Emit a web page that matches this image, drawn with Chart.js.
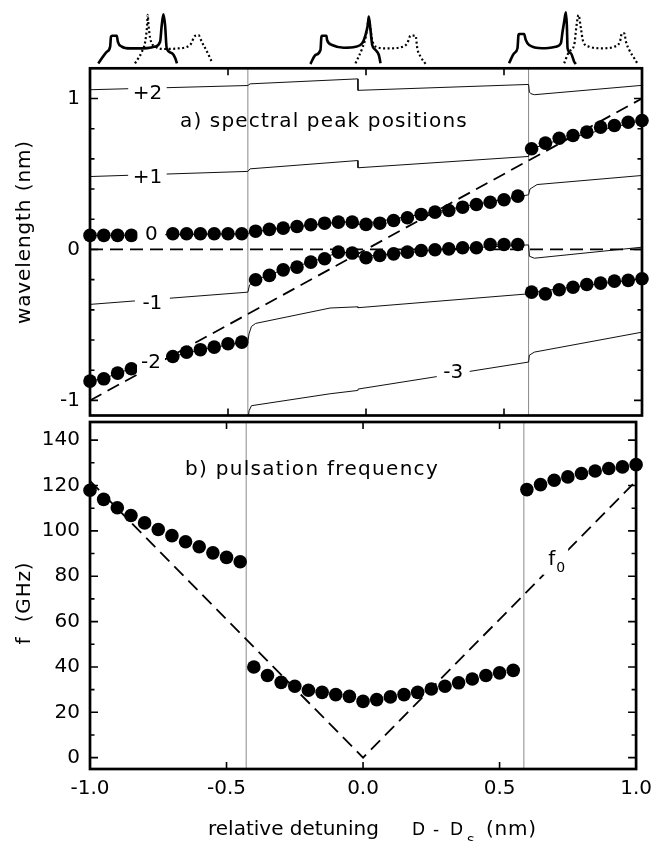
<!DOCTYPE html>
<html>
<head>
<meta charset="utf-8">
<script src="https://cdn.jsdelivr.net/npm/chart.js@4.4.1/dist/chart.umd.min.js"></script>
<style>
  body { margin: 0; background: #fff; }
  #wrap { position: relative; width: 660px; height: 841px; background: #fff; }
  #wrap canvas { position: absolute; left: 0; top: 0; }
</style>
</head>
<body>
<div id="wrap">
  <canvas id="spectra" width="660" height="841"></canvas>
  <canvas id="peaks" width="660" height="841"></canvas>
  <canvas id="pulsation" width="660" height="841"></canvas>
</div>
<script>
// detuning of the measured points (nm)
const detLeft = [-1.0, -0.95, -0.9, -0.85, -0.8, -0.75, -0.7, -0.65, -0.6, -0.55, -0.5, -0.45];
const detMid = [-0.4, -0.35, -0.3, -0.25, -0.2, -0.15, -0.1, -0.05, 0, 0.05, 0.1, 0.15, 0.2, 0.25, 0.3, 0.35, 0.4, 0.45, 0.5, 0.55];
const detRight = [0.6, 0.65, 0.7, 0.75, 0.8, 0.85, 0.9, 0.95, 1.0];

// where the laser jumps between regimes
const jumps = [-0.428, 0.589];

// a) spectral peak positions (nm)
const peakUpperLeft = [0.093, 0.093, 0.093, 0.093, null, null, 0.104, 0.104, 0.104, 0.104, 0.104, 0.104];
const peakLowerLeft = [-0.872, -0.857, -0.819, -0.79, null, null, -0.709, -0.68, -0.664, -0.647, -0.625, -0.614];
const peakUpperMid = [0.121, 0.133, 0.141, 0.152, 0.164, 0.174, 0.181, 0.181, 0.166, 0.174, 0.192, 0.21, 0.232, 0.247, 0.258, 0.28, 0.298, 0.313, 0.329, 0.353];
const peakLowerMid = [-0.201, -0.172, -0.135, -0.117, -0.084, -0.062, -0.018, -0.024, -0.055, -0.04, -0.029, -0.018, -0.007, -0.002, 0.004, 0.011, 0.011, 0.033, 0.033, 0.033];
const peakUpperRight = [0.667, 0.704, 0.737, 0.755, 0.777, 0.81, 0.821, 0.843, 0.854];
const peakLowerRight = [-0.283, -0.294, -0.267, -0.25, -0.232, -0.223, -0.21, -0.205, -0.194];

// calculated mode positions [detuning, wavelength]
const modePlus2 = [[-1, 1.058], [-0.428, 1.086], [-0.42, 1.097], [-0.03, 1.13], [-0.029, 1.054], [0.589, 1.093], [0.592, 1.043], [0.597, 1.032], [0.61, 1.025], [1, 1.087]];
const modePlus1 = [[-1, 0.483], [-0.428, 0.517], [-0.42, 0.534], [-0.03, 0.589], [-0.029, 0.541], [0.589, 0.616], [0.595, 0.66], [0.65, 0.7], [1, 0.855]];
const modeZero = [[-1, 0.092], [-0.428, 0.104], [-0.42, 0.115], [-0.3, 0.141], [-0.1, 0.181], [-0.03, 0.183], [-0.029, 0.165], [0.2, 0.232], [0.589, 0.362], [0.594, 0.4], [0.62, 0.43], [1, 0.49]];
const modeMinus1 = [[-1, -0.364], [-0.428, -0.283], [-0.422, -0.235], [-0.4, -0.201], [-0.3, -0.135], [-0.2, -0.084], [-0.1, -0.02], [-0.03, -0.02], [-0.029, -0.05], [0.1, -0.029], [0.3, 0.004], [0.589, 0.03], [0.592, -0.045], [0.61, -0.058], [1, 0.015]];
const modeMinus2 = [[-1, -0.87], [-0.95, -0.857], [-0.9, -0.819], [-0.85, -0.79], [-0.7, -0.709], [-0.6, -0.664], [-0.428, -0.61], [-0.424, -0.56], [-0.415, -0.51], [-0.4, -0.49], [-0.13, -0.388], [-0.03, -0.38], [-0.029, -0.386], [0.589, -0.294], [0.6, -0.283], [1, -0.194]];
const modeMinus3 = [[-0.428, -1.16], [-0.424, -1.07], [-0.415, -1.035], [-0.13, -0.956], [-0.03, -0.934], [-0.029, -0.925], [0.589, -0.746], [0.592, -0.7], [0.61, -0.68], [1, -0.548]];
const zeroLine = [[-1, 0], [1, 0]];
const diagLine = [[-1, -1], [1, 1]];

// b) pulsation frequency (GHz)
const freqLeft = [117.9, 113.9, 110.2, 106.8, 103.5, 100.6, 97.9, 95.2, 93.0, 90.3, 88.3, 86.4];
const freqMid = [40.0, 36.2, 33.2, 31.5, 29.7, 28.8, 27.8, 27.0, 24.8, 25.6, 26.8, 27.8, 28.8, 30.3, 31.5, 33.0, 34.7, 36.2, 37.4, 38.5];
const freqRight = [118.2, 120.4, 122.3, 123.8, 125.3, 126.4, 127.5, 128.2, 129.2];
const f0Line = [[-1, 122], [0, 0], [1, 122]];

// optical spectra at three detunings [position, intensity]
const specLeftSolid = [[-0.97, 0.01], [-0.939, 0.205], [-0.927, 0.29], [-0.924, 0.455], [-0.92, 0.47], [-0.903, 0.47], [-0.899, 0.37], [-0.885, 0.29], [-0.855, 0.26], [-0.825, 0.26], [-0.793, 0.265], [-0.764, 0.29], [-0.746, 0.37], [-0.74, 0.65], [-0.734, 0.83], [-0.728, 0.65], [-0.722, 0.26], [-0.703, 0.18], [-0.691, 0.095], [-0.685, 0.01]];
const specLeftDot = [[-0.837, 0.01], [-0.812, 0.205], [-0.8, 0.37], [-0.793, 0.65], [-0.791, 0.82], [-0.788, 0.65], [-0.782, 0.43], [-0.764, 0.29], [-0.728, 0.25], [-0.68, 0.26], [-0.637, 0.32], [-0.619, 0.47], [-0.607, 0.48], [-0.595, 0.37], [-0.576, 0.205], [-0.558, 0.03]];
const specMidSolid = [[-0.2015, 0], [-0.183, 0.15], [-0.165, 0.233], [-0.1615, 0.455], [-0.159, 0.472], [-0.1434, 0.472], [-0.141, 0.4], [-0.123, 0.317], [-0.0806, 0.272], [-0.038, 0.288], [-0.0138, 0.345], [-0.0018, 0.483], [0.0065, 0.65], [0.01, 0.79], [0.0163, 0.567], [0.0225, 0.317], [0.0345, 0.233], [0.0465, 0.15], [0.0526, 0.012]];
const specMidDot = [[-0.038, 0.01], [-0.0138, 0.26], [-0.0018, 0.43], [0.01, 0.73], [0.0225, 0.4], [0.0345, 0.29], [0.0769, 0.26], [0.1252, 0.278], [0.1495, 0.345], [0.1615, 0.472], [0.1797, 0.472], [0.1858, 0.26], [0.1978, 0.122], [0.216, 0]];
const specRightSolid = [[0.5183, 0.012], [0.5365, 0.178], [0.5488, 0.262], [0.5525, 0.483], [0.5546, 0.5], [0.5728, 0.5], [0.5789, 0.4], [0.5909, 0.317], [0.6395, 0.262], [0.6878, 0.288], [0.706, 0.345], [0.7121, 0.538], [0.718, 0.705], [0.7241, 0.862], [0.7277, 0.65], [0.7303, 0.262], [0.7423, 0.178], [0.7543, 0.038], [0.7604, 0]];
const specRightDot = [[0.718, 0.012], [0.736, 0.205], [0.7543, 0.317], [0.763, 0.65], [0.77, 0.817], [0.7786, 0.595], [0.787, 0.372], [0.8087, 0.288], [0.8573, 0.262], [0.8994, 0.288], [0.92, 0.372], [0.9274, 0.512], [0.9357, 0.512], [0.9419, 0.372], [0.9539, 0.233], [0.972, 0.095], [0.9844, 0]];

// axis ticks
const xTicks = [-1, -0.5, 0, 0.5, 1];
const yTicksTop = [-1, -0.8, -0.6, -0.4, -0.2, 0, 0.2, 0.4, 0.6, 0.8, 1];
const yLabelsTop = [-1, 0, 1];
const yTicksBottom = [0, 10, 20, 30, 40, 50, 60, 70, 80, 90, 100, 110, 120, 130, 140];
const yLabelsBottom = [0, 20, 40, 60, 80, 100, 120, 140];

// mode labels on the thin lines
const modeLabels = [
  { text: '+2', x: -0.792, y: 1.037, pad: 4.5 },
  { text: '+1', x: -0.792, y: 0.479, pad: 4.5 },
  { text: '0', x: -0.778, y: 0.106, pad: 7.5 },
  { text: '-1', x: -0.774, y: -0.355, pad: 7.5 },
  { text: '-2', x: -0.779, y: -0.746, pad: 4 },
  { text: '-3', x: 0.316, y: -0.813, pad: 6.5 }
];

const FONT = '"DejaVu Sans", sans-serif';
Chart.defaults.font.family = FONT;
Chart.defaults.color = '#000';

const xy = (xs, ys) => xs.map((x, i) => ({ x, y: ys[i] }));
const pairs = a => a.map(([x, y]) => ({ x, y }));

function lineSet(data, extra) {
  return Object.assign({ data: pairs(data), showLine: true, pointRadius: 0, borderColor: '#111', borderWidth: 1, fill: false, clip: 0 }, extra);
}
function dotSet(data) {
  return { data, showLine: false, pointRadius: 6.8, pointBackgroundColor: '#000', pointBorderWidth: 0, clip: false };
}
function jumpSets(ymin, ymax) {
  return jumps.map(j => lineSet([[j, ymin], [j, ymax]], { borderColor: '#8a8a8a', borderWidth: 1 }));
}
const dashed = { borderColor: '#000', borderWidth: 1.8, borderDash: [13, 7] };

function drawFrame(chart, yTicks, yMajors) {
  const { ctx, chartArea: a, scales: { x, y } } = chart;
  ctx.save();
  ctx.strokeStyle = '#000';
  ctx.lineWidth = 1.6;
  ctx.beginPath();
  xTicks.forEach(v => {
    const px = x.getPixelForValue(v);
    ctx.moveTo(px, a.top); ctx.lineTo(px, a.top + 7);
    ctx.moveTo(px, a.bottom); ctx.lineTo(px, a.bottom - 7);
  });
  yTicks.forEach(v => {
    const py = y.getPixelForValue(v);
    const len = yMajors.includes(v) ? 8 : 4.5;
    ctx.moveTo(a.left, py); ctx.lineTo(a.left + len, py);
    ctx.moveTo(a.right, py); ctx.lineTo(a.right - len, py);
  });
  ctx.stroke();
  ctx.lineWidth = 2.7;
  ctx.strokeRect(a.left, a.top, a.right - a.left, a.bottom - a.top);
  ctx.restore();
}

function put(ctx, str, x, y, size, spacing, align) {
  ctx.font = size + 'px ' + FONT;
  ctx.letterSpacing = spacing || '0px';
  ctx.textAlign = align || 'left';
  ctx.textBaseline = 'alphabetic';
  ctx.fillStyle = '#000';
  ctx.fillText(str, x, y);
}

function sideTitle(ctx, str, x, y, spacing) {
  ctx.save();
  ctx.translate(x, y);
  ctx.rotate(-Math.PI / 2);
  put(ctx, str, 0, 0, 20, spacing, 'center');
  ctx.restore();
}

function yAxis(min, max, ticks, labels) {
  return {
    type: 'linear', min, max,
    afterFit: s => { s.width = 90; },
    afterBuildTicks: s => { s.ticks = ticks.map(v => ({ value: v })); },
    grid: { display: false, drawTicks: false },
    border: { display: false },
    ticks: { font: { size: 20 }, padding: 10, autoSkip: false, callback: v => labels.includes(v) ? String(v) : '' }
  };
}

const common = {
  responsive: false,
  animation: false,
  events: [],
  plugins: { legend: { display: false }, tooltip: { enabled: false } }
};

// spectra above the figure
new Chart(document.getElementById('spectra'), {
  type: 'scatter',
  data: {
    datasets: [
      lineSet(specLeftSolid, { borderColor: '#000', borderWidth: 2.6, cubicInterpolationMode: 'monotone' }),
      lineSet(specLeftDot, { borderColor: '#000', borderWidth: 2.2, borderDash: [2, 2.5], cubicInterpolationMode: 'monotone' }),
      lineSet(specMidSolid, { borderColor: '#000', borderWidth: 2.6, cubicInterpolationMode: 'monotone' }),
      lineSet(specMidDot, { borderColor: '#000', borderWidth: 2.2, borderDash: [2, 2.5], cubicInterpolationMode: 'monotone' }),
      lineSet(specRightSolid, { borderColor: '#000', borderWidth: 2.6, cubicInterpolationMode: 'monotone' }),
      lineSet(specRightDot, { borderColor: '#000', borderWidth: 2.2, borderDash: [2, 2.5], cubicInterpolationMode: 'monotone' })
    ].map(d => Object.assign(d, { clip: false }))
  },
  options: Object.assign({}, common, {
    layout: { padding: { left: 90, right: 18, top: 4, bottom: 841 - 64 } },
    scales: {
      x: { type: 'linear', min: -1, max: 1, display: false },
      y: { type: 'linear', min: 0, max: 1, display: false }
    }
  })
});

// a) spectral peak positions
new Chart(document.getElementById('peaks'), {
  type: 'scatter',
  data: {
    datasets: [
      dotSet(xy(detLeft, peakUpperLeft)),
      dotSet(xy(detLeft, peakLowerLeft)),
      dotSet(xy(detMid, peakUpperMid)),
      dotSet(xy(detMid, peakLowerMid)),
      dotSet(xy(detRight, peakUpperRight)),
      dotSet(xy(detRight, peakLowerRight)),
      lineSet(zeroLine, dashed),
      lineSet(diagLine, dashed),
      lineSet(modePlus2),
      lineSet(modePlus1),
      lineSet(modeZero),
      lineSet(modeMinus1),
      lineSet(modeMinus2),
      lineSet(modeMinus3),
      ...jumpSets(-1.1, 1.2)
    ]
  },
  options: Object.assign({}, common, {
    layout: { padding: { left: 0, right: 18, top: 68.3, bottom: 841 - 415.5 } },
    scales: {
      x: { type: 'linear', min: -1, max: 1, display: false },
      y: yAxis(-1.1, 1.2, yTicksTop, yLabelsTop)
    }
  }),
  plugins: [{
    id: 'peakDecor',
    afterDatasetsDraw(chart) {
      const { ctx, chartArea: a, scales: { x, y } } = chart;
      ctx.save();
      modeLabels.forEach(l => {
        const px = x.getPixelForValue(l.x), py = y.getPixelForValue(l.y);
        ctx.font = '20px ' + FONT;
        ctx.letterSpacing = '0px';
        const w = ctx.measureText(l.text).width;
        ctx.fillStyle = '#fff';
        ctx.fillRect(px - w / 2 - l.pad, py - 11, w + 2 * l.pad, 22);
        ctx.fillStyle = '#000';
        ctx.textAlign = 'center';
        ctx.textBaseline = 'middle';
        ctx.fillText(l.text, px, py + 1);
      });
      put(ctx, 'a) spectral peak positions', a.left + 90, a.top + 59, 20, '1.15px');
      sideTitle(ctx, 'wavelength (nm)', 30, 232, '0.9px');
      ctx.restore();
      drawFrame(chart, yTicksTop, yLabelsTop);
    }
  }]
});

// b) pulsation frequency
new Chart(document.getElementById('pulsation'), {
  type: 'scatter',
  data: {
    datasets: [
      dotSet(xy(detLeft, freqLeft)),
      dotSet(xy(detMid, freqMid)),
      dotSet(xy(detRight, freqRight)),
      lineSet(f0Line, dashed),
      ...jumpSets(-5, 148)
    ]
  },
  options: Object.assign({}, common, {
    layout: { padding: { left: 0, right: 18, top: 422, bottom: 0 } },
    scales: {
      x: {
        type: 'linear', min: -1, max: 1,
        afterFit: s => { s.height = 72; },
        afterBuildTicks: s => { s.ticks = xTicks.map(v => ({ value: v })); },
        grid: { display: false, drawTicks: false },
        border: { display: false },
        ticks: { font: { size: 20 }, padding: 8, autoSkip: false, maxRotation: 0, callback: v => v.toFixed(1) }
      },
      y: yAxis(-5, 148, yTicksBottom, yLabelsBottom)
    }
  }),
  plugins: [{
    id: 'freqDecor',
    afterDatasetsDraw(chart) {
      const { ctx, chartArea: a, scales: { x, y } } = chart;
      ctx.save();
      // f0 label sitting on the dashed line
      const fx = x.getPixelForValue(0.678), fy = y.getPixelForValue(85);
      ctx.fillStyle = '#fff';
      ctx.fillRect(fx - 5, fy - 22, 25, 32);
      put(ctx, 'f', fx, fy, 20);
      put(ctx, '0', fx + 8, fy + 7, 14);
      put(ctx, 'b) pulsation frequency', a.left + 95, a.top + 53, 20, '1.3px');
      sideTitle(ctx, 'f  (GHz)', 30, 603, '0.8px');
      // x axis title with subscript
      put(ctx, 'relative detuning', 208, 835, 20);
      put(ctx, 'D', 412, 835, 17);
      put(ctx, '-', 433, 835, 17);
      put(ctx, 'D', 450, 835, 17);
      put(ctx, 'S', 467, 845, 12);
      put(ctx, '(nm)', 486, 835, 20, '0.8px');
      ctx.restore();
      drawFrame(chart, yTicksBottom, yLabelsBottom);
    }
  }]
});
</script>
</body>
</html>
